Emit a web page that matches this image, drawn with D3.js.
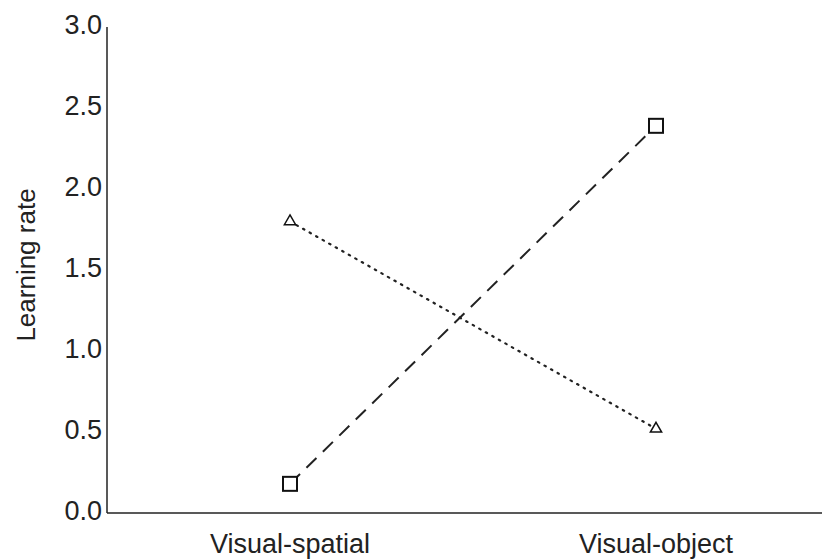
<!DOCTYPE html>
<html><head><meta charset="utf-8">
<script src="https://cdn.jsdelivr.net/npm/d3@7"></script>
<style>body{margin:0;background:#fff}</style>
</head><body>
<svg id="c" width="822" height="559"></svg>
<script>
const categories = ["Visual-spatial", "Visual-object"];
const squareSeries = [0.18, 2.39];
const triangleSeries = [1.80, 0.52];
const yTicks = [0, 0.5, 1.0, 1.5, 2.0, 2.5, 3.0];

const svg = d3.select("#c");
const xPos = d3.scalePoint().domain(categories).range([290, 656]);
const y = d3.scaleLinear().domain([0, 3]).range([513, 27]);
const font = "'Liberation Sans', Arial, Helvetica, sans-serif";
const ink = "#222";

// axes lines
svg.append("line").attr("x1", 107).attr("x2", 107).attr("y1", y(3)).attr("y2", y(0))
  .attr("stroke", ink).attr("stroke-width", 1.5);
svg.append("line").attr("x1", 107).attr("x2", 822).attr("y1", y(0)).attr("y2", y(0))
  .attr("stroke", ink).attr("stroke-width", 1.5);

// y tick labels
svg.selectAll(".yt").data(yTicks).enter().append("text")
  .attr("x", 102).attr("y", d => y(d) + 6.5)
  .attr("text-anchor", "end").attr("font-family", font).attr("font-size", 27).attr("fill", ink)
  .text(d => d3.format(".1f")(d));

// x labels
svg.selectAll(".xt").data(categories).enter().append("text")
  .attr("x", d => xPos(d)).attr("y", 553)
  .attr("text-anchor", "middle").attr("font-family", font).attr("font-size", 27).attr("fill", ink)
  .text(d => d);

// y title
svg.append("text").attr("transform", `translate(35,265) rotate(-90)`)
  .attr("text-anchor", "middle").attr("font-family", font).attr("font-size", 26).attr("fill", ink)
  .text("Learning rate");

const line = d3.line().x((d, i) => xPos(categories[i])).y(d => y(d));

svg.append("path").datum(squareSeries).attr("d", line).attr("fill", "none")
  .attr("stroke", ink).attr("stroke-width", 2).attr("stroke-dasharray", "14,9");
svg.append("path").datum(triangleSeries).attr("d", line).attr("fill", "none")
  .attr("stroke", ink).attr("stroke-width", 2.2).attr("stroke-dasharray", "1.5,6").attr("stroke-linecap", "round");

svg.selectAll(".sq").data(squareSeries).enter().append("rect")
  .attr("x", (d, i) => xPos(categories[i]) - 7).attr("y", d => y(d) - 7)
  .attr("width", 14).attr("height", 14).attr("fill", "#fff").attr("stroke", "#111").attr("stroke-width", 2);

const tri = d3.symbol().type(d3.symbolTriangle).size(55);
svg.selectAll(".tr").data(triangleSeries).enter().append("path")
  .attr("d", tri).attr("transform", (d, i) => `translate(${xPos(categories[i])},${y(d)})`)
  .attr("fill", "#fff").attr("stroke", "#111").attr("stroke-width", 1.5);
</script>
</body></html>
